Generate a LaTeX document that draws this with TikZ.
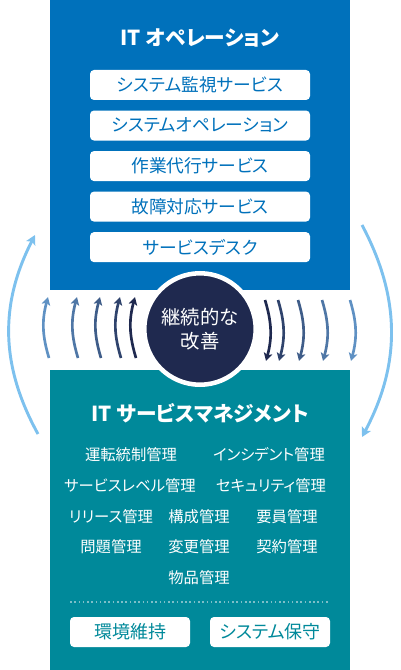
\documentclass[tikz,border=0pt]{standalone}
\usepackage{fontspec}
\setmainfont{Noto Sans CJK JP}[RawFeature=+palt]
\usetikzlibrary{arrows.meta,positioning}
\definecolor{opsblue}{RGB}{0,113,187}
\definecolor{svcteal}{RGB}{0,137,154}
\definecolor{navy}{RGB}{31,41,79}
\definecolor{steel}{RGB}{95,145,195}
\definecolor{sky}{RGB}{125,193,238}
\definecolor{dotline}{RGB}{125,190,200}
\tikzset{
  panel/.style={inner sep=0pt, minimum width=225pt},
  paneltitle/.style={text=white, inner sep=0pt, font=\bfseries\fontsize{15.5}{18}\selectfont},
  opsitem/.style={fill=white, rounded corners=3pt, minimum width=165pt, minimum height=22.5pt,
    inner sep=0pt, text=opsblue, font=\fontsize{13.3}{15}\selectfont},
  mgmt/.style={text=white, inner sep=0pt, font=\fontsize{11.5}{14}\selectfont},
  basebox/.style={fill=white, rounded corners=3pt, minimum width=90pt, minimum height=22.5pt,
    inner sep=0pt, text=svcteal, font=\fontsize{13.5}{15}\selectfont},
  hub/.style={circle, fill=navy, draw=white, line width=3.4pt, minimum size=83.6pt, inner sep=0pt,
    text=white, align=center, font=\fontsize{14.5}{18.5}\selectfont},
  flow/.style={-{Stealth[length=6pt,width=6.5pt,inset=1.5pt]}, line width=2pt},
  loopline/.style={-{Stealth[length=7pt,width=7.5pt,inset=1.5pt]}, line width=2.2pt, color=sky},
}

\begin{document}
\begin{tikzpicture}[x=0.75pt, y=-0.75pt, node distance=7.5pt]
  \useasboundingbox (0,0) rectangle (400,670);
  % panels
  \node[panel, fill=opsblue, minimum height=217.5pt] (ops) at (200,145) {};
  \node[panel, fill=svcteal, minimum height=225pt] (svc) at (200,520) {};
  \node[paneltitle] (opstitle) at (200,38) {IT オペレーション};
  \node[paneltitle] (svctitle) at (200,413) {IT サービスマネジメント};
  % operation services
  \node[opsitem] (monitor) at (200,85) {システム監視サービス};
  \node[opsitem, below=of monitor] (sysop) {システムオペレーション};
  \node[opsitem, below=of sysop] (proxy) {作業代行サービス};
  \node[opsitem, below=of proxy] (fault) {故障対応サービス};
  \node[opsitem, below=of fault] (desk) {サービスデスク};
  % management items
  \node[mgmt] (unten) at (131,455) {運転統制管理};
  \node[mgmt] (incident) at (269,455) {インシデント管理};
  \node[mgmt] (level) at (130,486) {サービスレベル管理};
  \node[mgmt] (security) at (271,486) {セキュリティ管理};
  \node[mgmt] (release) at (111,517) {リリース管理};
  \node[mgmt] (config) at (199,517) {構成管理};
  \node[mgmt] (staff) at (287,517) {要員管理};
  \node[mgmt] (problem) at (111,547) {問題管理};
  \node[mgmt] (change) at (199,547) {変更管理};
  \node[mgmt] (contract) at (287,547) {契約管理};
  \node[mgmt] (goods) at (199,578) {物品管理};
  \coordinate (sepL) at (70,602);
  \coordinate (sepR) at (330,602);
  \draw[dotline, line width=1.2pt, dotted] (sepL) -- (sepR);
  \node[basebox] (env) at (130,632) {環境維持};
  \node[basebox] (maint) at (270,632) {システム保守};
  % improvement hub
  \node[hub] (kaizen) at (200,329) {継続的な\\改善};
  \foreach \xl/\xr/\p [count=\i] in {135/265/0, 120/278/25, 100/298/50, 77/322/75, 48/350/100} {
    \coordinate (up\i-s) at (\xl+1,358);
    \coordinate (up\i-e) at (\xl,297);
    \coordinate (dn\i-s) at (\xr,300);
    \coordinate (dn\i-e) at (\xr+1,361);
    \draw[flow, color=steel!\p!navy] (up\i-s) to[bend left=16] (up\i-e);
    \draw[flow, color=steel!\p!navy] (dn\i-s) to[bend left=16] (dn\i-e);
  }
  % outer cycle
  \coordinate (cycL-s) at (38,434);
  \coordinate (cycL-e) at (35,235);
  \coordinate (cycR-s) at (362,225);
  \coordinate (cycR-e) at (362,437);
  \draw[loopline] (cycL-s) to[bend left=28] (cycL-e);
  \draw[loopline] (cycR-s) to[bend left=28] (cycR-e);
\end{tikzpicture}
\end{document}
